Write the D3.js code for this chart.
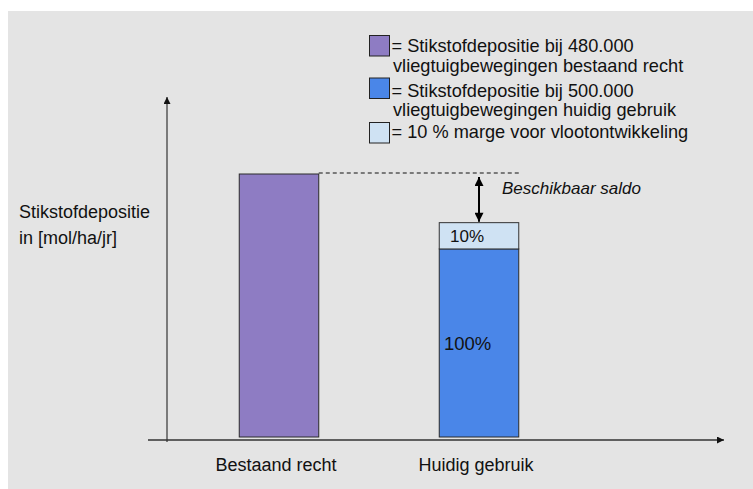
<!DOCTYPE html>
<html>
<head>
<meta charset="utf-8">
<script src="https://cdn.jsdelivr.net/npm/d3@7"></script>
<style>
  html, body { margin: 0; padding: 0; background: #ffffff; }
  svg { display: block; }
  text { font-family: "Liberation Sans", Arial, sans-serif; fill: #111; }
</style>
</head>
<body>
<svg id="chart" width="753" height="489"></svg>
<script>
// Scenarios on the x axis
const categories = ["Bestaand recht", "Huidig gebruik"];
// Nitrogen deposition per scenario (relative units, bestaand recht = 100)
const depositie = [100, 71.5];
// Margin for fleet development stacked on top of current use
const marge = [0, 10];
const segmentLabels = ["100%", "10%"];
const saldoLabel = "Beschikbaar saldo";
const yLabel = ["Stikstofdepositie", "in [mol/ha/jr]"];
const colors = { bestaand: "#8e7cc3", huidig: "#4a86e8", marge: "#cfe2f3" };
const legendItems = [
  { color: colors.bestaand, lines: ["= Stikstofdepositie bij 480.000", "vliegtuigbewegingen bestaand recht"] },
  { color: colors.huidig, lines: ["= Stikstofdepositie bij 500.000", "vliegtuigbewegingen huidig gebruik"] },
  { color: colors.marge, lines: ["= 10 % marge voor vlootontwikkeling"] }
];

const svg = d3.select("#chart");

// grey panel
svg.append("rect").attr("x", 8).attr("y", 11).attr("width", 745).attr("height", 478).attr("fill", "#e4e4e4");

const y = d3.scaleLinear().domain([0, 100]).range([437, 174]);
const x = d3.scalePoint().domain(categories).range([279, 479]);
const barW = 79.5;

// arrowhead marker
const defs = svg.append("defs");
function marker(id, w, h, color) {
  defs.append("marker").attr("id", id)
    .attr("viewBox", "0 0 10 10").attr("refX", 10).attr("refY", 5)
    .attr("markerWidth", w).attr("markerHeight", h).attr("markerUnits", "userSpaceOnUse")
    .attr("orient", "auto-start-reverse")
    .append("path").attr("d", "M0,0 L10,5 L0,10 Z").attr("fill", color);
}
marker("axisArrow", 8, 7, "#111");
marker("saldoArrow", 12, 9, "#000");

// axes
svg.append("line").attr("x1", 167).attr("y1", 442).attr("x2", 167).attr("y2", 97)
  .attr("stroke", "#111").attr("stroke-width", 1).attr("marker-end", "url(#axisArrow)");
svg.append("line").attr("x1", 148).attr("y1", 440).attr("x2", 724).attr("y2", 440)
  .attr("stroke", "#333").attr("stroke-width", 1.5).attr("marker-end", "url(#axisArrow)");

// bars: base deposition
svg.selectAll("rect.base").data(categories).join("rect")
  .attr("class", "base")
  .attr("x", d => x(d) - barW / 2)
  .attr("y", (d, i) => y(depositie[i]))
  .attr("width", barW)
  .attr("height", (d, i) => y(0) - y(depositie[i]))
  .attr("fill", (d, i) => i === 0 ? colors.bestaand : colors.huidig)
  .attr("stroke", "#2a2a2a").attr("stroke-width", 1);

// stacked margin
svg.selectAll("rect.marge").data(categories.filter((d, i) => marge[i] > 0)).join("rect")
  .attr("class", "marge")
  .attr("x", d => x(d) - barW / 2)
  .attr("y", d => { const i = categories.indexOf(d); return y(depositie[i] + marge[i]); })
  .attr("width", barW)
  .attr("height", d => { const i = categories.indexOf(d); return y(depositie[i]) - y(depositie[i] + marge[i]); })
  .attr("fill", colors.marge)
  .attr("stroke", "#333").attr("stroke-width", 1);

// segment labels on current-use bar
const hx = x(categories[1]);
svg.append("text").attr("x", hx - 35).attr("y", y(depositie[1] / 2) + 7)
  .attr("font-size", 18.5).text(segmentLabels[0]);
svg.append("text").attr("x", hx - 29).attr("y", y(depositie[1] + marge[1] / 2) + 6)
  .attr("font-size", 17).text(segmentLabels[1]);

// dashed reference at bestaand recht level
svg.append("line")
  .attr("x1", x(categories[0]) + barW / 2).attr("x2", hx + barW / 2 + 3)
  .attr("y1", y(depositie[0]) - 1).attr("y2", y(depositie[0]) - 1)
  .attr("stroke", "#111").attr("stroke-width", 1).attr("stroke-dasharray", "4,3");

// available balance arrow
svg.append("line").attr("x1", hx).attr("x2", hx)
  .attr("y1", y(depositie[0]) + 3).attr("y2", y(depositie[1] + marge[1]) - 1)
  .attr("stroke", "#000").attr("stroke-width", 2)
  .attr("marker-start", "url(#saldoArrow)").attr("marker-end", "url(#saldoArrow)");
svg.append("text").attr("x", 502).attr("y", 194).attr("font-size", 17)
  .attr("font-style", "italic").text(saldoLabel);

// category labels
svg.selectAll("text.cat").data(categories).join("text")
  .attr("class", "cat")
  .attr("x", d => x(d) - 3).attr("y", 471)
  .attr("text-anchor", "middle").attr("font-size", 18).text(d => d);

// y label
svg.append("text").attr("x", 19).attr("y", 218).attr("font-size", 18).text(yLabel[0]);
svg.append("text").attr("x", 19).attr("y", 244).attr("font-size", 18).text(yLabel[1]);

// legend
const legendTops = [35.5, 78, 122.5];
const baselines = [[52, 72], [96.5, 116], [138]];
legendItems.forEach((item, i) => {
  svg.append("rect").attr("x", 369.5).attr("y", legendTops[i]).attr("width", 20).attr("height", 20.5)
    .attr("fill", item.color).attr("stroke", "#222").attr("stroke-width", 1);
  item.lines.forEach((line, j) => {
    svg.append("text").attr("x", j === 0 ? 391.5 : 393).attr("y", baselines[i][j])
      .attr("font-size", 18.2).text(line);
  });
});
</script>
</body>
</html>
